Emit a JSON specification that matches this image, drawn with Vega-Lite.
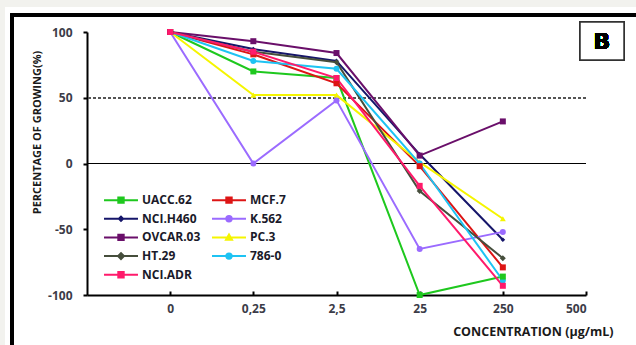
{
  "$schema": "https://vega.github.io/schema/vega-lite/v6.json",
  "width": 499,
  "height": 263,
  "autosize": {"type": "none"},
  "padding": {"left": 87, "top": 32, "right": 50, "bottom": 50},
  "background": "#ffffff",
  "config": {
    "view": {"stroke": null},
    "axis": {"zindex": 1, "grid": false, "domainColor": "#000000", "tickColor": "#000000", "domainWidth": 2, "tickWidth": 2,
      "labelFont": "Open Sans", "labelFontSize": 12, "labelFontWeight": "bold", "labelColor": "#3c3c48",
      "titleFont": "Open Sans", "titleFontSize": 12.5, "titleFontWeight": "bold", "titleColor": "#1a1a1a"}
  },
  "data": {"values": [
    {"cell": "UACC.62", "i": 1, "v": 100}, {"cell": "UACC.62", "i": 2, "v": 70}, {"cell": "UACC.62", "i": 3, "v": 65}, {"cell": "UACC.62", "i": 4, "v": -100}, {"cell": "UACC.62", "i": 5, "v": -86},
    {"cell": "MCF.7", "i": 1, "v": 100}, {"cell": "MCF.7", "i": 2, "v": 83}, {"cell": "MCF.7", "i": 3, "v": 61}, {"cell": "MCF.7", "i": 4, "v": -2}, {"cell": "MCF.7", "i": 5, "v": -79},
    {"cell": "NCI.H460", "i": 1, "v": 100}, {"cell": "NCI.H460", "i": 2, "v": 87}, {"cell": "NCI.H460", "i": 3, "v": 78}, {"cell": "NCI.H460", "i": 4, "v": 7}, {"cell": "NCI.H460", "i": 5, "v": -58},
    {"cell": "K.562", "i": 1, "v": 100}, {"cell": "K.562", "i": 2, "v": 0}, {"cell": "K.562", "i": 3, "v": 48}, {"cell": "K.562", "i": 4, "v": -65}, {"cell": "K.562", "i": 5, "v": -52},
    {"cell": "OVCAR.03", "i": 1, "v": 100}, {"cell": "OVCAR.03", "i": 2, "v": 93}, {"cell": "OVCAR.03", "i": 3, "v": 84}, {"cell": "OVCAR.03", "i": 4, "v": 6}, {"cell": "OVCAR.03", "i": 5, "v": 32},
    {"cell": "PC.3", "i": 1, "v": 100}, {"cell": "PC.3", "i": 2, "v": 52}, {"cell": "PC.3", "i": 3, "v": 52}, {"cell": "PC.3", "i": 4, "v": 1}, {"cell": "PC.3", "i": 5, "v": -42},
    {"cell": "HT.29", "i": 1, "v": 100}, {"cell": "HT.29", "i": 2, "v": 85}, {"cell": "HT.29", "i": 3, "v": 77}, {"cell": "HT.29", "i": 4, "v": -21}, {"cell": "HT.29", "i": 5, "v": -72},
    {"cell": "786-0", "i": 1, "v": 100}, {"cell": "786-0", "i": 2, "v": 78}, {"cell": "786-0", "i": 3, "v": 72}, {"cell": "786-0", "i": 4, "v": 0}, {"cell": "786-0", "i": 5, "v": -89},
    {"cell": "NCI.ADR", "i": 1, "v": 100}, {"cell": "NCI.ADR", "i": 2, "v": 85}, {"cell": "NCI.ADR", "i": 3, "v": 65}, {"cell": "NCI.ADR", "i": 4, "v": -17}, {"cell": "NCI.ADR", "i": 5, "v": -93}
  ]},
  "layer": [
    {
      "mark": {"type": "rect", "fill": "#f2f2ee", "clip": false},
      "encoding": {
        "x": {"datum": -1.06, "type": "quantitative", "scale": {"domain": [0, 6]}},
        "x2": {"datum": 7.2},
        "y": {"datum": 125, "type": "quantitative", "scale": {"domain": [-100, 100]}},
        "y2": {"datum": 119}
      }
    },
    {
      "mark": {"type": "rect", "fill": "#f2f2ee", "clip": false},
      "encoding": {
        "x": {"datum": -1.06, "type": "quantitative"},
        "x2": {"datum": -0.986},
        "y": {"datum": 125, "type": "quantitative"},
        "y2": {"datum": -150}
      }
    },
    {
      "mark": {"type": "rect", "fill": null, "stroke": "#000000", "strokeWidth": 2.5, "clip": false},
      "encoding": {
        "x": {"datum": -0.902, "type": "quantitative"},
        "x2": {"datum": 7.2},
        "y": {"datum": 112.9, "type": "quantitative"},
        "y2": {"datum": -160}
      }
    },
    {
      "mark": {"type": "rule", "stroke": "#555555", "strokeDash": [3, 2], "strokeWidth": 1},
      "encoding": {"y": {"datum": 50, "type": "quantitative"}}
    },
    {
      "mark": {"type": "rule", "stroke": "#000000", "strokeWidth": 1.2},
      "encoding": {"y": {"datum": 0, "type": "quantitative"}}
    },
    {
      "mark": {"type": "line", "strokeWidth": 2},
      "encoding": {
        "x": {"field": "i", "type": "quantitative", "scale": {"domain": [0, 6]},
          "axis": {"values": [1, 2, 3, 4, 5, 6], "labelExpr": "['','0','0,25','2,5','25','250','500'][datum.value]",
            "tickSize": -4, "labelPadding": 12, "title": "CONCENTRATION (µg/mL)", "titleAnchor": "end", "titleAlign": "right", "titleX": 526, "titleY": 36, "titleBaseline": "middle"}},
        "y": {"field": "v", "type": "quantitative", "scale": {"domain": [-100, 100]},
          "axis": {"values": [-100, -75, -50, -25, 0, 25, 50, 75, 100], "tickSize": 4, "labelPadding": 11,
            "labelExpr": "replace(datum.label, '−', '-')",
            "title": "PERCENTAGE OF GROWING(%)", "titleFontSize": 11, "titleX": -50, "titleY": 100, "titleAlign": "center", "titleBaseline": "middle"}},
        "color": {"field": "cell", "type": "nominal",
          "scale": {"domain": ["UACC.62", "MCF.7", "NCI.H460", "K.562", "OVCAR.03", "PC.3", "HT.29", "786-0", "NCI.ADR"],
            "range": ["#1ec81e", "#dd1515", "#16166a", "#9b6bff", "#6a0f6a", "#f5f500", "#464e3c", "#1ec3f3", "#ff1a6b"]},
          "legend": {"orient": "none", "legendX": 27, "legendY": 161, "columns": 2, "direction": "horizontal", "title": null,
            "symbolSize": 144, "labelOffset": 14, "columnPadding": 7, "rowPadding": 4.7, "padding": 0,
            "labelFont": "Open Sans", "labelFontSize": 12, "labelFontWeight": "bold", "labelColor": "#1a1a2a",
            "encode": {"symbols": {"update": {
              "shape": {"signal": "datum.value == 'PC.3' ? 'M-2.83,0H2.83M-0.5,0.38L0,-0.5L0.5,0.38Z' : (datum.value == 'K.562' || datum.value == '786-0') ? 'M-2.83,0H2.83M-0.45,0A0.45,0.45 0 1 0 0.45,0A0.45,0.45 0 1 0 -0.45,0Z' : datum.value == 'NCI.H460' ? 'M-2.83,0H2.83M-0.35,0L0,-0.35L0.35,0L0,0.35Z' : datum.value == 'HT.29' ? 'M-2.83,0H2.83M-0.5,0L0,-0.5L0.5,0L0,0.5Z' : 'M-2.83,0H2.83M-0.45,-0.45H0.45V0.45H-0.45Z'"},
              "fill": {"scale": "color", "field": "value"},
              "stroke": {"scale": "color", "field": "value"},
              "strokeWidth": {"value": 2},
              "opacity": {"value": 1}
            }}}}
        }
      }
    },
    {
      "transform": [{"filter": "datum.cell == 'PC.3'"}],
      "mark": {"type": "point", "filled": true, "opacity": 1, "size": 36, "shape": "triangle-up"},
      "encoding": {
        "x": {"field": "i", "type": "quantitative"},
        "y": {"field": "v", "type": "quantitative"},
        "color": {"field": "cell", "type": "nominal", "legend": null}
      }
    },
    {
      "transform": [{"filter": "datum.cell == 'K.562' || datum.cell == '786-0'"}],
      "mark": {"type": "point", "filled": true, "opacity": 1, "size": 36, "shape": "circle"},
      "encoding": {
        "x": {"field": "i", "type": "quantitative"},
        "y": {"field": "v", "type": "quantitative"},
        "color": {"field": "cell", "type": "nominal", "legend": null}
      }
    },
    {
      "transform": [{"filter": "datum.cell == 'NCI.H460'"}],
      "mark": {"type": "point", "filled": true, "opacity": 1, "size": 22, "shape": "diamond"},
      "encoding": {
        "x": {"field": "i", "type": "quantitative"},
        "y": {"field": "v", "type": "quantitative"},
        "color": {"field": "cell", "type": "nominal", "legend": null}
      }
    },
    {
      "transform": [{"filter": "datum.cell == 'HT.29'"}],
      "mark": {"type": "point", "filled": true, "opacity": 1, "size": 36, "shape": "diamond"},
      "encoding": {
        "x": {"field": "i", "type": "quantitative"},
        "y": {"field": "v", "type": "quantitative"},
        "color": {"field": "cell", "type": "nominal", "legend": null}
      }
    },
    {
      "transform": [{"filter": "datum.cell == 'UACC.62' || datum.cell == 'MCF.7' || datum.cell == 'OVCAR.03' || datum.cell == 'NCI.ADR'"}],
      "mark": {"type": "point", "filled": true, "opacity": 1, "size": 36, "shape": "square"},
      "encoding": {
        "x": {"field": "i", "type": "quantitative"},
        "y": {"field": "v", "type": "quantitative"},
        "color": {"field": "cell", "type": "nominal", "legend": null}
      }
    },
    {
      "mark": {"type": "rect", "fill": "#ffffff", "stroke": "#333333", "strokeWidth": 1.5, "clip": false},
      "encoding": {
        "x": {"datum": 5.928, "type": "quantitative"},
        "x2": {"datum": 6.457},
        "y": {"datum": 107.6, "type": "quantitative"},
        "y2": {"datum": 78.7}
      }
    },
    {
      "mark": {"type": "text", "text": "B", "font": "DejaVu Sans", "fontSize": 22, "fontWeight": "bold", "color": "#000000", "align": "center", "baseline": "middle", "clip": false},
      "encoding": {
        "x": {"datum": 6.19, "type": "quantitative"},
        "y": {"datum": 92.5, "type": "quantitative"}
      }
    }
  ]
}
